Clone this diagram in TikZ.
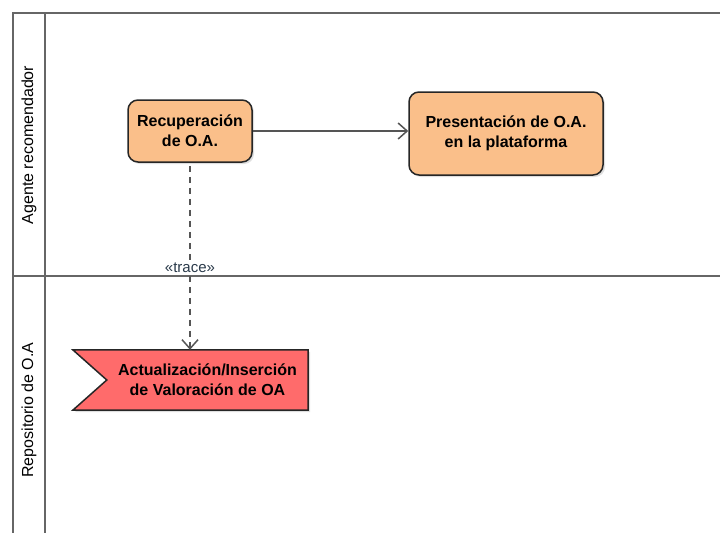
\documentclass[tikz,border=0pt]{standalone}
\usepackage{fontspec}
\setmainfont{Liberation Sans}
\usetikzlibrary{arrows.meta,calc,shadows,backgrounds}
\definecolor{lanegray}{HTML}{666666}
\definecolor{actorange}{HTML}{FABF8A}
\definecolor{sigred}{HTML}{FF6B6B}
\definecolor{flowgray}{HTML}{555555}
\definecolor{tracetext}{HTML}{2A3A4A}

\begin{document}
\begin{tikzpicture}[x=1pt, y=-1pt, line join=round,
  lane/.style={draw=lanegray, line width=2pt},
  lane label/.style={rotate=90, font=\fontsize{16}{20}\selectfont},
  act node/.style={rounded corners=10pt, draw=black!85, line width=1.5pt, fill=actorange, align=center, inner sep=0pt, font=\fontsize{16}{20}\selectfont\bfseries, drop shadow={shadow xshift=2pt, shadow yshift=-2pt, fill=black!25}},
  signal node/.style={align=center, inner sep=0pt, font=\fontsize{16}{20}\selectfont\bfseries},
  flow/.style={draw=flowgray, line width=1.5pt, -{Straight Barb[length=9pt,width=16pt]}},
  trace/.style={flow, dash pattern=on 6pt off 5pt},
  trace label/.style={fill=white, inner sep=1pt, text=tracetext, font=\fontsize{15}{17}\selectfont}]
\useasboundingbox (0,0) rectangle (720,533);
% swimlane titles
\node[lane label] (ag) at (29,145) {Agente recomendador};
\node[lane label] (rep) at (29,410) {Repositorio de O.A};
% actions
\node[act node, minimum width=124pt, minimum height=62pt] (rec) at (190,131) {Recuperación\\de O.A.};
\node[act node, minimum width=194pt, minimum height=83pt] (pres) at (506,133.5) {Presentación de O.A.\\en la plataforma};
\node[signal node, minimum width=201pt, minimum height=60pt] (act) at (207.5,380) {Actualización/Inserción\\de Valoración de OA};
\begin{scope}[on background layer]
\draw[lane] (720,13) -- (13,13) -- (13,533);
\draw[lane] (45,13) -- (45,533);
\draw[lane] (13,276) -- (720,276);
\path[fill=sigred, draw=black!85, line width=1.5pt, drop shadow={shadow xshift=2pt, shadow yshift=-2pt, fill=black!25}]
  ($(act.north west)+(-34,0)$) -- (act.north east) -- (act.south east) -- ($(act.south west)+(-34,0)$) -- (act.west) -- cycle;
\end{scope}
% connectors
\draw[flow] (rec.east) -- (rec.east -| pres.west);
\draw[trace] ($(rec.south)+(0,3)$) -- (rec.south |- act.north) node[trace label, pos=0.555] {«trace»};
\end{tikzpicture}
\end{document}
